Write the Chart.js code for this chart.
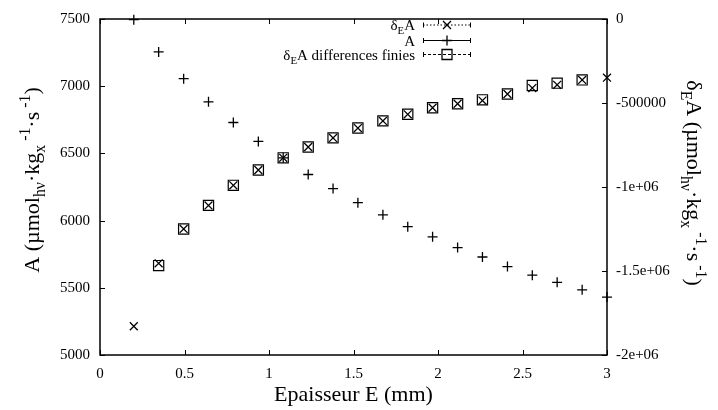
<!DOCTYPE html>
<html lang="fr">
<head>
<meta charset="UTF-8">
<title>Epaisseur E</title>
<style>
    html, body { margin: 0; padding: 0; background: #ffffff; }
    #chart { display: block; }
</style>
<script src="https://cdn.jsdelivr.net/npm/chart.js"></script>
</head>
<body>
<canvas id="chart" width="718" height="410"></canvas>
<script>
// values
const epaisseur = [0.2, 0.347, 0.495, 0.642, 0.789, 0.937, 1.084, 1.232, 1.379, 1.526, 1.674, 1.821, 1.968, 2.116, 2.263, 2.411, 2.558, 2.705, 2.853, 3.0];
const valA = [7495, 7255, 7056, 6884, 6730, 6589, 6467, 6343, 6238, 6133, 6043, 5955, 5879, 5799, 5729, 5658, 5594, 5541, 5485, 5431];
const deltaA = [-1828700, -1454400, -1249700, -1109400, -990100, -898800, -826300, -762000, -707600, -649100, -606400, -567300, -528100, -504700, -485400, -446200, -411100, -391800, -362600, -349100];
// finite differences: nothing at both ends
const deltaDF = [null, -1467800, -1249700, -1109400, -990100, -898800, -826300, -762000, -707600, -649100, -606400, -567300, -528100, -504700, -481300, -446200, -395900, -381900, -362600, null];

const xTicks = [0, 0.5, 1, 1.5, 2, 2.5, 3];
const xTickLabels = ['0', '0.5', '1', '1.5', '2', '2.5', '3'];
const yTicks = [5000, 5500, 6000, 6500, 7000, 7500];
const y2Ticks = [-2000000, -1500000, -1000000, -500000, 0];
const y2TickLabels = ['-2e+06', '-1.5e+06', '-1e+06', '-500000', '0'];

const SERIF = "'Liberation Serif', 'DejaVu Serif', serif";

function points(arr) {
    const out = [];
    epaisseur.forEach((x, i) => {
        if (arr[i] !== null) out.push({ x: x, y: arr[i] });
    });
    return out;
}

// text with sub/superscripts, parts = [[text, 'sub'|'sup'|''], ...]
function drawRich(ctx, parts, x, y, size, align) {
    const segs = parts.map(p => {
        const s = p[1] ? size * 0.72 : size;
        ctx.font = s + 'px ' + SERIF;
        return {
            t: p[0], s: s,
            dy: p[1] === 'sub' ? size * 0.28 : (p[1] === 'sup' ? -size * 0.42 : 0),
            w: ctx.measureText(p[0]).width
        };
    });
    const total = segs.reduce((a, g) => a + g.w, 0);
    let cx = align === 'center' ? x - total / 2 : (align === 'right' ? x - total : x);
    ctx.textAlign = 'left';
    ctx.textBaseline = 'alphabetic';
    segs.forEach(g => {
        ctx.font = g.s + 'px ' + SERIF;
        ctx.fillText(g.t, cx, y + g.dy);
        cx += g.w;
    });
}

function marker(ctx, kind, x, y) {
    ctx.beginPath();
    if (kind === 'x') {
        ctx.moveTo(x - 4, y - 4); ctx.lineTo(x + 4, y + 4);
        ctx.moveTo(x - 4, y + 4); ctx.lineTo(x + 4, y - 4);
    } else if (kind === '+') {
        ctx.moveTo(x - 5, y); ctx.lineTo(x + 5, y);
        ctx.moveTo(x, y - 5); ctx.lineTo(x, y + 5);
    } else {
        ctx.rect(x - 5, y - 5, 10, 10);
    }
    ctx.stroke();
}

const unitParts = [[' (\u00b5mol', ''], ['h\u03bd', 'sub'], ['\u00b7kg', ''], ['x', 'sub'], [' -1', 'sup'], ['\u00b7s', ''], [' -1', 'sup'], [')', '']];

const gnuFrame = {
    id: 'gnuFrame',
    afterDraw(chart) {
        const ctx = chart.ctx;
        const a = chart.chartArea;
        const sx = chart.scales.x, sy = chart.scales.y, sy2 = chart.scales.y2;
        ctx.save();
        ctx.strokeStyle = '#000';
        ctx.fillStyle = '#000';

        // frame
        ctx.lineWidth = 1.5;
        ctx.strokeRect(a.left, a.top, a.right - a.left, a.bottom - a.top);

        // inward ticks
        ctx.lineWidth = 1;
        ctx.beginPath();
        xTicks.forEach(v => {
            const p = Math.round(sx.getPixelForValue(v)) + 0.5;
            ctx.moveTo(p, a.bottom); ctx.lineTo(p, a.bottom - 5);
            ctx.moveTo(p, a.top); ctx.lineTo(p, a.top + 5);
        });
        yTicks.forEach(v => {
            const p = Math.round(sy.getPixelForValue(v)) + 0.5;
            ctx.moveTo(a.left, p); ctx.lineTo(a.left + 5, p);
        });
        y2Ticks.forEach(v => {
            const p = Math.round(sy2.getPixelForValue(v)) + 0.5;
            ctx.moveTo(a.right, p); ctx.lineTo(a.right - 5, p);
        });
        ctx.stroke();

        // axis titles
        ctx.font = '22px ' + SERIF;
        ctx.textAlign = 'center';
        ctx.textBaseline = 'alphabetic';
        ctx.fillText('Epaisseur E (mm)', (a.left + a.right) / 2, 401);

        ctx.save();
        ctx.translate(39, 180);
        ctx.rotate(-Math.PI / 2);
        drawRich(ctx, [['A', '']].concat(unitParts), 0, 0, 22, 'center');
        ctx.restore();

        ctx.save();
        ctx.translate(687, 183);
        ctx.rotate(Math.PI / 2);
        drawRich(ctx, [['\u03b4', ''], ['E', 'sub'], ['A', '']].concat(unitParts), 0, 0, 22, 'center');
        ctx.restore();

        // legend
        const rows = [
            { parts: [['\u03b4', ''], ['E', 'sub'], ['A', '']], dash: [1.5, 2], mk: 'x', y: 25 },
            { parts: [['A', '']], dash: [], mk: '+', y: 40.5 },
            { parts: [['\u03b4', ''], ['E', 'sub'], ['A differences finies', '']], dash: [3, 2], mk: 's', y: 54.5 }
        ];
        rows.forEach(r => {
            drawRich(ctx, r.parts, 415, r.y + 5, 15, 'right');
            ctx.lineWidth = 1;
            ctx.setLineDash(r.dash);
            ctx.beginPath();
            ctx.moveTo(423, r.y); ctx.lineTo(471, r.y);
            ctx.stroke();
            ctx.setLineDash([]);
            ctx.beginPath();
            ctx.moveTo(423.5, r.y - 2.5); ctx.lineTo(423.5, r.y + 2.5);
            ctx.moveTo(470.5, r.y - 2.5); ctx.lineTo(470.5, r.y + 2.5);
            ctx.stroke();
            ctx.lineWidth = 1.3;
            marker(ctx, r.mk, 447, r.y);
        });
        ctx.restore();
    }
};

const tickFont = { family: SERIF, size: 15 };

new Chart(document.getElementById('chart').getContext('2d'), {
    type: 'scatter',
    data: {
        datasets: [
            {
                label: '\u03b4EA',
                data: points(deltaA),
                yAxisID: 'y2',
                pointStyle: 'crossRot',
                pointRadius: 5.6,
                borderColor: '#000',
                backgroundColor: '#000',
                pointBorderWidth: 1.3,
                clip: false
            },
            {
                label: 'A',
                data: points(valA),
                yAxisID: 'y',
                pointStyle: 'cross',
                pointRadius: 5,
                borderColor: '#000',
                backgroundColor: '#000',
                pointBorderWidth: 1.3,
                clip: false
            },
            {
                label: '\u03b4EA differences finies',
                data: points(deltaDF),
                yAxisID: 'y2',
                pointStyle: 'rect',
                pointRadius: 7.2,
                borderColor: '#000',
                backgroundColor: 'rgba(0,0,0,0)',
                pointBorderWidth: 1.2,
                clip: false
            }
        ]
    },
    options: {
        responsive: false,
        animation: false,
        devicePixelRatio: 1,
        layout: { padding: { top: 13, left: 0, right: 0, bottom: 0 } },
        plugins: {
            legend: { display: false },
            tooltip: { enabled: false }
        },
        scales: {
            x: {
                type: 'linear',
                position: 'bottom',
                min: 0, max: 3,
                grid: { display: false, drawTicks: false },
                border: { display: false },
                afterBuildTicks: s => { s.ticks = xTicks.map(v => ({ value: v })); },
                afterFit: s => { s.height = 55; },
                ticks: {
                    font: tickFont, color: '#000', padding: 10, maxRotation: 0,
                    callback: (v, i) => xTickLabels[i]
                }
            },
            y: {
                type: 'linear',
                position: 'left',
                min: 5000, max: 7500,
                grid: { display: false, drawTicks: false },
                border: { display: false },
                afterBuildTicks: s => { s.ticks = yTicks.map(v => ({ value: v })); },
                afterFit: s => { s.width = 100; },
                ticks: { font: tickFont, color: '#000', padding: 10, callback: v => String(v) }
            },
            y2: {
                type: 'linear',
                position: 'right',
                min: -2000000, max: 0,
                grid: { display: false, drawTicks: false },
                border: { display: false },
                afterBuildTicks: s => { s.ticks = y2Ticks.map(v => ({ value: v })); },
                afterFit: s => { s.width = 111; },
                ticks: {
                    font: tickFont, color: '#000', padding: 9,
                    callback: (v, i) => y2TickLabels[i]
                }
            }
        }
    },
    plugins: [gnuFrame]
});
</script>
</body>
</html>
